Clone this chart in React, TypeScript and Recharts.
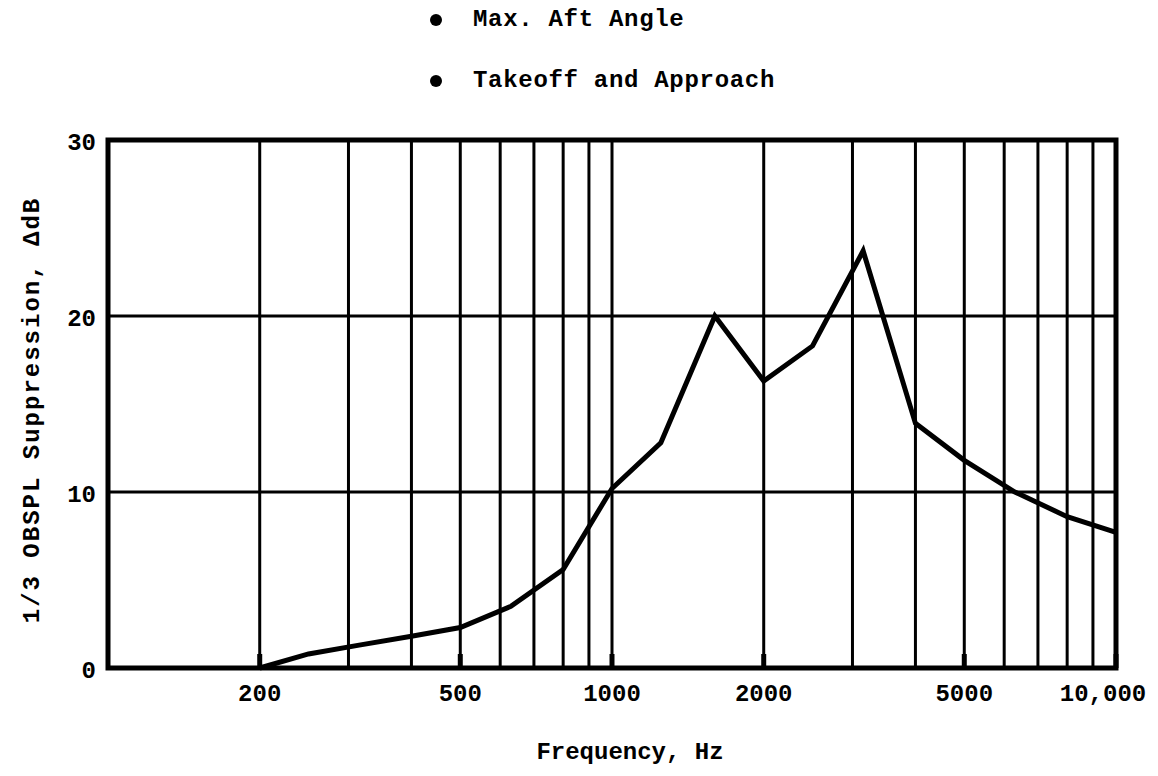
import React from 'react';
import { LineChart, Line, XAxis, YAxis, CartesianGrid, ReferenceArea, Label } from 'recharts';

// 1/3-octave band centre frequencies, Hz
const frequencies = [200, 250, 315, 400, 500, 630, 800, 1000, 1250, 1600, 2000, 2500, 3150, 4000, 5000, 6300, 8000, 10000];
// suppression, dB
const suppression = [0, 0.8, 1.3, 1.8, 2.3, 3.5, 5.6, 10.2, 12.8, 20.0, 16.3, 18.3, 23.7, 13.9, 11.8, 10.0, 8.6, 7.7];

const gridFrequencies = [200, 300, 400, 500, 600, 700, 800, 900, 1000, 2000, 3000, 4000, 5000, 6000, 7000, 8000, 9000, 10000];
const labelledFrequencies = [200, 500, 1000, 2000, 5000, 10000];
const yTicks = [0, 10, 20, 30];
const legendItems = ['Max. Aft Angle', 'Takeoff and Approach'];

const FONT = '"Liberation Mono", "Courier New", monospace';

const data = frequencies.map((f, i) => ({ freq: f, value: suppression[i] }));

const formatFreq = (v: number) => (v === 10000 ? '10,000' : String(v));

const FreqTick = (props: any) => {
    const { x, y, payload } = props;
    const v = payload.value as number;
    if (!labelledFrequencies.includes(v)) return null;
    const shift = v === 10000 ? -13 : 0;
    return (
        <g>
            <line x1={x} x2={x} y1={y - 14} y2={y} stroke="#000" strokeWidth={5} />
            <text
                x={x + shift}
                y={y + 33}
                textAnchor="middle"
                fontFamily={FONT}
                fontWeight="bold"
                fontSize={24}
                fill="#000"
            >
                {formatFreq(v)}
            </text>
        </g>
    );
};

const LevelTick = (props: any) => {
    const { x, y, payload } = props;
    return (
        <text
            x={x}
            y={y + 10}
            textAnchor="end"
            fontFamily={FONT}
            fontWeight="bold"
            fontSize={24}
            fill="#000"
        >
            {payload.value}
        </text>
    );
};

export default function App() {
    return (
        <div style={{ position: 'absolute', left: 0, top: 0, width: 1158, height: 776, background: '#fff' }}>
            {legendItems.map((item, i) => (
                <div
                    key={item}
                    style={{
                        position: 'absolute',
                        left: 430,
                        top: 5 + i * 61,
                        fontFamily: FONT,
                        fontWeight: 'bold',
                        fontSize: 24,
                        letterSpacing: 0.7,
                        lineHeight: '30px',
                        color: '#000',
                        whiteSpace: 'pre',
                        display: 'flex',
                        alignItems: 'center',
                    }}
                >
                    <span
                        style={{
                            display: 'inline-block',
                            width: 12,
                            height: 12,
                            borderRadius: '50%',
                            background: '#000',
                            marginRight: 31,
                        }}
                    />
                    {item}
                </div>
            ))}
            <LineChart
                width={1158}
                height={776}
                data={data}
                margin={{ top: 140, right: 42, bottom: 68, left: 48 }}
            >
                <CartesianGrid stroke="#000" strokeWidth={3} verticalFill={[]} />
                <XAxis
                    dataKey="freq"
                    type="number"
                    scale="log"
                    domain={[100, 10000]}
                    allowDataOverflow
                    ticks={gridFrequencies}
                    interval={0}
                    tick={<FreqTick />}
                    tickLine={false}
                    tickSize={0}
                    tickMargin={0}
                    axisLine={false}
                    height={40}
                >
                    <Label
                        value="Frequency, Hz"
                        position="bottom"
                        offset={34}
                        dx={18}
                        fontFamily={FONT}
                        fontWeight="bold"
                        fontSize={24}
                        fill="#000"
                    />
                </XAxis>
                <YAxis
                    type="number"
                    domain={[0, 30]}
                    ticks={yTicks}
                    interval={0}
                    tick={<LevelTick />}
                    tickLine={false}
                    tickSize={0}
                    tickMargin={12}
                    axisLine={false}
                    width={60}
                >
                    <Label
                        value="1/3 OBSPL Suppression, ΔdB"
                        angle={-90}
                        position="left"
                        offset={18}
                        dy={6}
                        fontFamily={FONT}
                        fontWeight="bold"
                        fontSize={24}
                        letterSpacing={2}
                        fill="#000"
                        textAnchor="middle"
                    />
                </YAxis>
                <ReferenceArea
                    x1={100}
                    x2={10000}
                    y1={0}
                    y2={30}
                    fill="none"
                    fillOpacity={0}
                    stroke="#000"
                    strokeWidth={5}
                />
                <Line
                    type="linear"
                    dataKey="value"
                    stroke="#000"
                    strokeWidth={5}
                    dot={false}
                    isAnimationActive={false}
                />
            </LineChart>
        </div>
    );
}
